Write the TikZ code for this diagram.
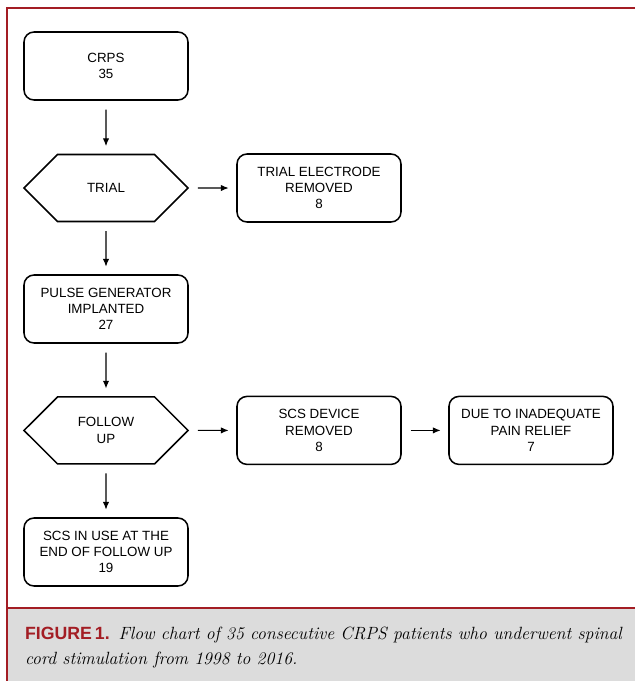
\documentclass[tikz,border=0pt]{standalone}
\usepackage{fontspec}
\setsansfont{Liberation Sans}
\usetikzlibrary{arrows.meta,shapes.symbols}

\definecolor{framered}{HTML}{A31D24}
\definecolor{capgray}{HTML}{DCDCDC}

\begin{document}
\begin{tikzpicture}[>={Latex[length=5.5pt,width=4.5pt]}]
  \tikzstyle{box}=[draw, rounded corners=0.25cm, line width=1.1pt, minimum width=4.1cm, minimum height=1.7cm, align=center, font=\sffamily\fontsize{9.5}{11.5}\selectfont]
  \tikzstyle{hexa}=[draw, signal, signal to=west and east, signal pointer angle=90, line width=1.1pt, minimum width=4.1cm, minimum height=1.675cm, inner sep=0pt, align=center, font=\sffamily\fontsize{9.5}{11.5}\selectfont]
  \tikzstyle{flow}=[->, line width=0.75pt, shorten <=0.22cm, shorten >=0.19cm]

  \useasboundingbox (0,0) rectangle (15.875,-17.025);

  % frame and caption
  \fill[capgray] (0.175,-15.2) rectangle (15.875,-17.025);
  \draw[framered, line width=1.4pt] (0.175,-17.025) -- (0.175,-0.2) -- (15.875,-0.2);
  \draw[framered, line width=1.4pt] (0.175,-15.2) -- (15.875,-15.2);
  \node[anchor=north west, align=left, inner sep=0pt, font=\fontsize{12.6}{17.5}\selectfont] (caption) at (0.62,-15.68)
    {{\sffamily\bfseries\color{framered}FIGURE\,1.}\enspace\itshape Flow chart of 35 consecutive CRPS patients who underwent spinal\\
     \itshape cord stimulation from 1998 to 2016.};

  % main column
  \node[box] (crps) at (2.65, -1.65) {CRPS\\35};
  \node[hexa] (trial) at (2.65, -4.7) {TRIAL};
  \node[box] (pulse) at (2.65, -7.725) {PULSE GENERATOR\\IMPLANTED\\27};
  \node[hexa] (follow) at (2.65, -10.76) {FOLLOW\\UP};
  \node[box] (inuse) at (2.65, -13.8) {SCS IN USE AT THE\\END OF FOLLOW UP\\19};

  % side branches
  \node[box] (electrode) at (7.975, -4.7) {TRIAL ELECTRODE\\REMOVED\\8};
  \node[box] (device) at (7.975, -10.76) {SCS DEVICE\\REMOVED\\8};
  \node[box] (relief) at (13.275, -10.76) {DUE TO INADEQUATE\\PAIN RELIEF\\7};

  \draw[flow] (crps) -- (trial);
  \draw[flow] (trial) -- (pulse);
  \draw[flow] (pulse) -- (follow);
  \draw[flow] (follow) -- (inuse);
  \draw[flow] (trial) -- (electrode);
  \draw[flow] (follow) -- (device);
  \draw[flow] (device) -- (relief);
\end{tikzpicture}
\end{document}
